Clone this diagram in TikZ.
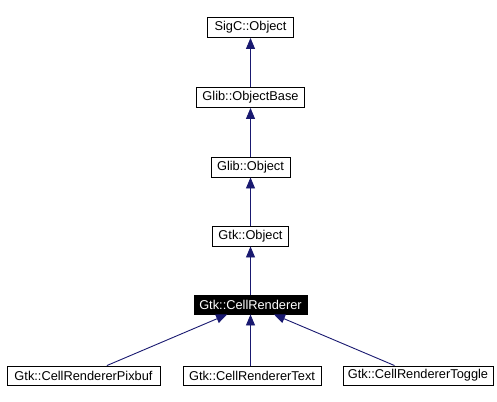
\documentclass[tikz,border=0pt]{standalone}
\usepackage{fontspec}
\setmainfont{Liberation Sans}
\usetikzlibrary{arrows.meta}
\definecolor{edgeblue}{HTML}{191970}
\tikzset{
  cls/.style={draw=black, line width=0.9pt, fill=white, inner sep=0pt, minimum height=20pt, font=\fontsize{12.8}{14}\selectfont},
  cur/.style={cls, fill=black, text=white},
  inh/.style={draw=edgeblue, line width=0.9pt, -{Triangle[length=11pt,width=9pt]}}
}
\begin{document}
\begin{tikzpicture}[x=1pt,y=-1pt]
\useasboundingbox (0,0) rectangle (497,401);
\node[cls, minimum width=86pt] (sigc) at (250.5,27.5) {SigC::Object};
\node[cls, minimum width=108pt] (gob) at (250.5,97.5) {Glib::ObjectBase};
\node[cls, minimum width=79pt] (glo) at (250.5,167) {Glib::Object};
\node[cls, minimum width=76pt] (gto) at (250.5,236) {Gtk::Object};
\node[cur, minimum width=113pt, minimum height=19pt] (cr) at (250.5,304.5) {Gtk::CellRenderer};
\node[cls, minimum width=153pt, minimum height=19pt] (pix) at (83.5,375.5) {Gtk::CellRendererPixbuf};
\node[cls, minimum width=138pt, minimum height=19pt] (txt) at (252,375.5) {Gtk::CellRendererText};
\node[cls, minimum width=150pt, minimum height=19pt] (tog) at (418,375.5) {Gtk::CellRendererToggle};
\draw[inh] (gob) -- (sigc);
\draw[inh] (glo) -- (gob);
\draw[inh] (gto) -- (glo);
\draw[inh] (cr) -- (gto);
\draw[inh] (pix) -- (cr);
\draw[inh] (txt.north -| cr) -- (cr);
\draw[inh] (tog) -- (cr);
\end{tikzpicture}
\end{document}
